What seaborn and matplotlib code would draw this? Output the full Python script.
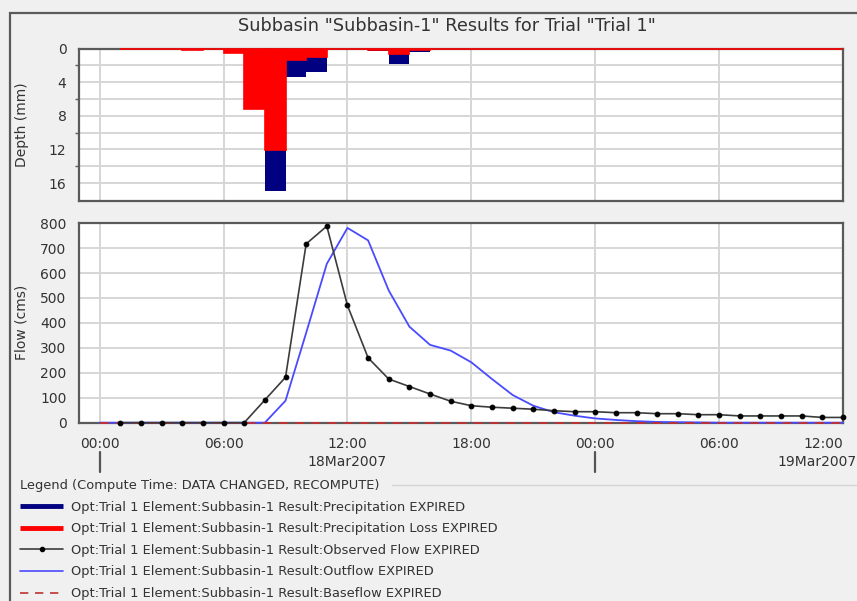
"""HEC-HMS style subbasin results: depth bars on top, flow hydrographs below."""

import matplotlib

matplotlib.use("Agg")

import matplotlib.pyplot as plt
import pandas as pd
import seaborn as sns
from matplotlib.lines import Line2D
from matplotlib.patches import Rectangle

# hours counted from 18Mar2007 00:00
bar_start_hours = [1, 2, 3, 4, 5, 6, 7, 8, 9, 10, 11, 12, 13, 14, 15, 16, 17, 18,
                   19, 20, 21, 22, 23, 24, 25, 26, 27, 28, 29, 30, 31, 32, 33, 34, 35]
precip_mm = [0, 0, 0, 0.2, 0, 0.55, 7.2, 16.9, 3.4, 2.8, 0, 0, 0.25, 1.86, 0.35, 0, 0, 0,
             0, 0, 0, 0, 0, 0, 0, 0, 0, 0, 0, 0, 0, 0, 0, 0, 0]
loss_mm = [0, 0, 0, 0.2, 0, 0.55, 7.2, 12.05, 1.35, 1.0, 0, 0, 0.12, 0.63, 0.12, 0, 0, 0,
           0, 0, 0, 0, 0, 0, 0, 0, 0, 0, 0, 0, 0, 0, 0, 0, 0]

observed_hours = [1, 2, 3, 4, 5, 6, 7, 8, 9, 10, 11, 12, 13, 14, 15, 16, 17, 18,
                  19, 20, 21, 22, 23, 24, 25, 26, 27, 28, 29, 30, 31, 32, 33, 34, 35, 36]
observed_cms = [0, 0, 0, 0, 0, 0, 0, 91, 182, 717, 788, 470, 260, 175, 145, 115, 86, 68,
                62, 58, 54, 48, 44, 44, 40, 40, 36, 36, 32, 32, 27, 27, 27, 27, 21, 21]

flow_hours = [0, 1, 2, 3, 4, 5, 6, 7, 8, 9, 10, 11, 12, 13, 14, 15, 16, 17, 18,
              19, 20, 21, 22, 23, 24, 25, 26, 27, 28, 29, 30, 31, 32, 33, 34, 35, 36]
outflow_cms = [0, 0, 0, 0, 0, 0, 0, 0, 0, 88, 360, 637, 781, 731, 530, 385, 312, 289, 242,
               175, 111, 68, 42, 28, 17, 11, 6, 3, 2, 1, 0, 0, 0, 0, 0, 0, 0]
baseflow_cms = [0, 0, 0, 0, 0, 0, 0, 0, 0, 0, 0, 0, 0, 0, 0, 0, 0, 0, 0,
                0, 0, 0, 0, 0, 0, 0, 0, 0, 0, 0, 0, 0, 0, 0, 0, 0, 0]

tick_hours = [0, 6, 12, 18, 24, 30, 36]
tick_labels = ["00:00", "06:00", "12:00", "18:00", "00:00", "06:00", "12:00"]
day_start_hours = [0, 24]
day_label_hours = [12, 36]
day_labels = ["18Mar2007", "19Mar2007"]

legend_labels = [
    "Opt:Trial 1 Element:Subbasin-1 Result:Precipitation EXPIRED",
    "Opt:Trial 1 Element:Subbasin-1 Result:Precipitation Loss EXPIRED",
    "Opt:Trial 1 Element:Subbasin-1 Result:Observed Flow EXPIRED",
    "Opt:Trial 1 Element:Subbasin-1 Result:Outflow EXPIRED",
    "Opt:Trial 1 Element:Subbasin-1 Result:Baseflow EXPIRED",
]

NAVY = "#000080"
RED = "#ff0000"
BLUE = "#4a4aff"
OBS = "#3c3c3c"
BASE = "#c03030"
SPINE = "#5a5a5a"
GRID = "#d6d6d6"
BG = "#f0f0f0"

sns.set_theme(style="white")
plt.rcParams["font.family"] = ["DejaVu Sans"]
plt.rcParams["text.color"] = "#333333"

fig = plt.figure(figsize=(8.57, 6.01), dpi=100, facecolor=BG)
ax_top = fig.add_axes([0.0922, 0.666, 0.8915, 0.253])
ax_bot = fig.add_axes([0.0922, 0.2967, 0.8915, 0.3328])


def _style(ax):
    ax.set_facecolor("white")
    ax.set_axisbelow(True)
    for spine in ax.spines.values():
        spine.set_color(SPINE)
        spine.set_linewidth(1.6)
    ax.tick_params(axis="both", which="both", direction="out", color=SPINE,
                   labelcolor="#333333", labelsize=10, width=1.0)
    ax.tick_params(axis="both", which="major", length=5, pad=4)
    ax.tick_params(axis="y", which="minor", length=3, left=True)
    ax.set_xlim(-1, 36)
    ax.set_xticks(tick_hours)
    ax.grid(True, axis="x", which="major", color=GRID, lw=1.4)


# ---- top panel: depth bars (inverted) ----
_style(ax_top)
depth_df = pd.DataFrame({"start": bar_start_hours, "precip": precip_mm, "loss": loss_mm})
ax_top.bar(depth_df["start"], depth_df["precip"], width=1, align="edge",
           color=NAVY, linewidth=0, zorder=2.8)
ax_top.bar(depth_df["start"], depth_df["loss"], width=1, align="edge",
           color=RED, edgecolor=RED, linewidth=1.2, zorder=3, clip_on=False)
ax_top.set_ylim(18.1, 0)
ax_top.set_yticks([0, 4, 8, 12, 16])
ax_top.set_yticks([2, 6, 10, 14], minor=True)
ax_top.grid(True, axis="y", which="both", color=GRID, lw=1.4)
ax_top.tick_params(axis="x", which="both", length=0, labelbottom=False)
ax_top.set_xlabel("")
ax_top.set_ylabel("Depth (mm)", fontsize=10, color="#333333")
ax_top.yaxis.set_label_coords(-0.066, 0.5)
ax_top.set_title('Subbasin "Subbasin-1" Results for Trial "Trial 1"',
                 fontsize=12.7, color="#333333", pad=13, x=0.481)

# ---- bottom panel: flows ----
_style(ax_bot)
out_df = pd.DataFrame({"hour": flow_hours, "flow": outflow_cms})
base_df = pd.DataFrame({"hour": flow_hours, "flow": baseflow_cms})
obs_df = pd.DataFrame({"hour": observed_hours, "flow": observed_cms})

sns.lineplot(data=out_df, x="hour", y="flow", ax=ax_bot, color=BLUE, lw=1.3,
             zorder=2.6, clip_on=False)
sns.lineplot(data=base_df, x="hour", y="flow", ax=ax_bot, color=BASE, lw=1.3,
             linestyle=(0, (5, 4)), zorder=2.7, clip_on=False)
sns.lineplot(data=obs_df, x="hour", y="flow", ax=ax_bot, color=OBS, lw=1.2,
             marker="o", markersize=3.4, markerfacecolor="black",
             markeredgecolor="black", zorder=3, clip_on=False)

ax_bot.set_ylim(0, 802)
ax_bot.set_yticks(range(0, 801, 100))
ax_bot.grid(True, axis="y", which="major", color=GRID, lw=1.4)
ax_bot.set_xticklabels(tick_labels)
ax_bot.tick_params(axis="x", which="major", pad=5)
# last time label sits on the right edge of the window; keep it inside
ax_bot.get_xticklabels()[-1].set_horizontalalignment("right")
ax_bot.set_xlabel("")
ax_bot.set_ylabel("Flow (cms)", fontsize=10, color="#333333")
ax_bot.yaxis.set_label_coords(-0.066, 0.5)

# day row under the time labels
xt = ax_bot.get_xaxis_transform()
for h in day_start_hours:
    ax_bot.plot([h, h], [-0.145, -0.245], transform=xt, color="#555555",
                lw=1.6, clip_on=False)
ax_bot.text(day_label_hours[0], -0.195, day_labels[0], transform=xt,
            ha="center", va="center", fontsize=10, color="#333333")
ax_bot.annotate(day_labels[1], xy=(day_label_hours[1], -0.195), xycoords=xt,
                xytext=(9.5, 0), textcoords="offset points",
                ha="right", va="center", fontsize=10, color="#333333")

# outer panel border and legend group line
fig.add_artist(Rectangle((10 / 857, -0.05), 1.2, 1 - 12.7 / 601 + 0.05,
                         transform=fig.transFigure, fill=False,
                         edgecolor="#5a5a5a", lw=1.6))
fig.add_artist(Line2D([392 / 857, 1.0], [1 - 485 / 601] * 2,
                      transform=fig.transFigure, color="#d4d4d4", lw=1.0))

handles = [
    Line2D([], [], color=NAVY, lw=3.5, solid_capstyle="butt"),
    Line2D([], [], color=RED, lw=3.5, solid_capstyle="butt"),
    Line2D([], [], color=OBS, lw=1.2, marker="o", markersize=3,
           markerfacecolor="black", markeredgecolor="black"),
    Line2D([], [], color=BLUE, lw=1.2),
    Line2D([], [], color=BASE, lw=1.2, linestyle=(0, (5, 4))),
]
leg = fig.legend(handles, legend_labels,
                 title="Legend (Compute Time: DATA CHANGED, RECOMPUTE)",
                 loc="upper left", bbox_to_anchor=(20 / 857, 1 - 479 / 601),
                 frameon=False, fontsize=9.4, title_fontsize=9.4,
                 handlelength=3.3, handletextpad=0.6, labelspacing=0.66,
                 borderpad=0, borderaxespad=0, alignment="left")
for txt in leg.get_texts():
    txt.set_color("#333333")
leg.get_title().set_color("#333333")

fig.savefig("out.png", dpi=100, facecolor=BG)
